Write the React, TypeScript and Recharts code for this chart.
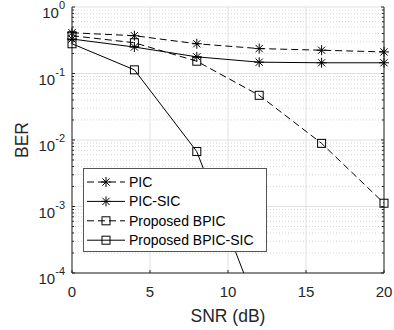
import React from 'react';
import { LineChart, Line, XAxis, YAxis, CartesianGrid, Legend } from 'recharts';

// SNR points (dB)
const snr = [0, 4, 8, 12, 16, 20];
// BER per scheme
const pic = [0.41, 0.37, 0.28, 0.237, 0.224, 0.211];
const picSic = [0.33, 0.25, 0.178, 0.148, 0.145, 0.145];
const bpic = [0.37, 0.29, 0.153, 0.047, 0.0089, 0.00112];
const bpicSic = [0.28, 0.1135, 0.0067, 0.000025, null, null];

const xTicks = [0, 5, 10, 15, 20];
const yMajor = [1e-4, 1e-3, 1e-2, 1e-1, 1];
const minorSteps = [2, 3, 4, 5, 6, 7, 8, 9];
const yMinor = yMajor.slice(0, -1).flatMap((d) => minorSteps.map((m) => m * d));
const yTicks = [...yMajor, ...yMinor].sort((a, b) => a - b);

const data = snr.map((x, i) => ({
  snr: x,
  pic: pic[i],
  picSic: picSic[i],
  bpic: bpic[i],
  bpicSic: bpicSic[i],
}));

const series = [
  { key: 'pic', name: 'PIC', dashed: true, marker: 'star' },
  { key: 'picSic', name: 'PIC-SIC', dashed: false, marker: 'star' },
  { key: 'bpic', name: 'Proposed BPIC', dashed: true, marker: 'square' },
  { key: 'bpicSic', name: 'Proposed BPIC-SIC', dashed: false, marker: 'square' },
];

const FONT = '"Liberation Sans", Arial, Helvetica, sans-serif';
const INK = '#262626';
const DASH = '7 4';

const isMajor = (v: number) => Math.abs(Math.log10(v) - Math.round(Math.log10(v))) < 1e-9;

const Star = ({ cx, cy, r = 5 }: { cx: number; cy: number; r?: number }) => {
  const d = r * 0.72;
  return (
    <g stroke="#000" strokeWidth={1}>
      <line x1={cx - r} y1={cy} x2={cx + r} y2={cy} />
      <line x1={cx} y1={cy - r} x2={cx} y2={cy + r} />
      <line x1={cx - d} y1={cy - d} x2={cx + d} y2={cy + d} />
      <line x1={cx - d} y1={cy + d} x2={cx + d} y2={cy - d} />
    </g>
  );
};

const Square = ({ cx, cy, r = 4 }: { cx: number; cy: number; r?: number }) => (
  <rect x={cx - r} y={cy - r} width={r * 2} height={r * 2} fill="none" stroke="#000" strokeWidth={1} />
);

const makeDot = (marker: string) => (p: any) => {
  if (p.cx == null || p.cy == null || p.value == null) return <g key={p.index} />;
  return marker === 'star' ? (
    <Star key={p.index} cx={p.cx} cy={p.cy} />
  ) : (
    <Square key={p.index} cx={p.cx} cy={p.cy} />
  );
};

const BottomTick = ({ x, y, payload }: any) => (
  <g>
    <line x1={x} y1={y} x2={x} y2={y - 3} stroke={INK} />
    <text x={x} y={y + 24} textAnchor="middle" fill={INK} fontSize={15} fontFamily={FONT}>
      {payload.value}
    </text>
  </g>
);

const TopTick = ({ x, y }: any) => <line x1={x} y1={y} x2={x} y2={y + 3} stroke={INK} />;

const LeftTick = ({ x, y, payload }: any) => {
  const major = isMajor(payload.value);
  const exp = Math.round(Math.log10(payload.value));
  return (
    <g>
      <line x1={x} y1={y} x2={x + (major ? 3 : 2)} y2={y} stroke={INK} />
      {major && (
        <text x={x - 7} y={y + 11} textAnchor="end" fill={INK} fontSize={15} fontFamily={FONT}>
          <tspan>10</tspan>
          <tspan dy={-9} fontSize={11}>{String(exp)}</tspan>
        </text>
      )}
    </g>
  );
};

const RightTick = ({ x, y, payload }: any) => (
  <line x1={x} y1={y} x2={x - (isMajor(payload.value) ? 3 : 2)} y2={y} stroke={INK} />
);

const BerLabel = ({ viewBox }: any) => {
  const cy = viewBox.y + viewBox.height / 2;
  return (
    <text
      x={22}
      y={cy}
      transform={`rotate(-90, 22, ${cy})`}
      textAnchor="middle"
      dominantBaseline="central"
      fill={INK}
      fontSize={17.5}
      fontFamily={FONT}
    >
      BER
    </text>
  );
};

const LegendBox = () => (
  <svg width={184} height={84} style={{ display: 'block' }}>
    <rect x={0.5} y={0.5} width={183} height={83} fill="#fff" stroke="#555" strokeWidth={1} />
    {series.map((s, i) => {
      const cy = 14 + i * 19.4;
      return (
        <g key={s.key}>
          <line x1={4} y1={cy} x2={42} y2={cy} stroke="#000" strokeWidth={1} strokeDasharray={s.dashed ? DASH : undefined} />
          {s.marker === 'star' ? <Star cx={23} cy={cy} /> : <Square cx={23} cy={cy} />}
          <text x={46} y={cy + 5} fill="#000" fontSize={14} fontFamily={FONT}>
            {s.name}
          </text>
        </g>
      );
    })}
  </svg>
);

export default function App() {
  return (
    <div style={{ position: 'absolute', left: 0, top: 0, width: 394, height: 330, background: '#fff' }}>
      <LineChart width={394} height={330} data={data} margin={{ top: 7, right: 0, bottom: 0, left: 0 }}>
        <CartesianGrid vertical={false} horizontalValues={yMinor} stroke="#d6d6d6" strokeDasharray="1 2" />
        <CartesianGrid horizontalValues={yMajor} verticalValues={xTicks} stroke="#e0e0e0" />
        <XAxis
          dataKey="snr"
          type="number"
          domain={[0, 20]}
          ticks={xTicks}
          height={57}
          tickSize={0}
          tickMargin={0}
          tick={<BottomTick />}
          axisLine={{ stroke: INK }}
          label={{ value: 'SNR (dB)', position: 'insideBottom', offset: 8, fill: INK, fontSize: 17.5, fontFamily: FONT }}
        />
        <XAxis
          xAxisId="t"
          orientation="top"
          type="number"
          domain={[0, 20]}
          ticks={xTicks}
          height={0}
          tickSize={0}
          tickMargin={0}
          tick={<TopTick />}
          axisLine={{ stroke: INK }}
        />
        <YAxis
          scale="log"
          domain={[1e-4, 1]}
          allowDataOverflow
          ticks={yTicks}
          interval={0}
          width={72}
          tickSize={0}
          tickMargin={0}
          tick={<LeftTick />}
          axisLine={{ stroke: INK }}
          label={<BerLabel />}
        />
        <YAxis
          yAxisId="r"
          orientation="right"
          scale="log"
          domain={[1e-4, 1]}
          allowDataOverflow
          ticks={yTicks}
          interval={0}
          width={10}
          tickSize={0}
          tickMargin={0}
          tick={<RightTick />}
          axisLine={{ stroke: INK }}
        />
        {series.map((s) => (
          <Line
            key={s.key}
            dataKey={s.key}
            name={s.name}
            stroke="#000"
            strokeWidth={1}
            strokeDasharray={s.dashed ? DASH : undefined}
            dot={makeDot(s.marker)}
            activeDot={false}
            connectNulls
            isAnimationActive={false}
          />
        ))}
        <Legend
          layout="vertical"
          align="center"
          verticalAlign="middle"
          wrapperStyle={{ left: 83, top: 168, width: 184 }}
          content={() => <LegendBox />}
        />
      </LineChart>
    </div>
  );
}
